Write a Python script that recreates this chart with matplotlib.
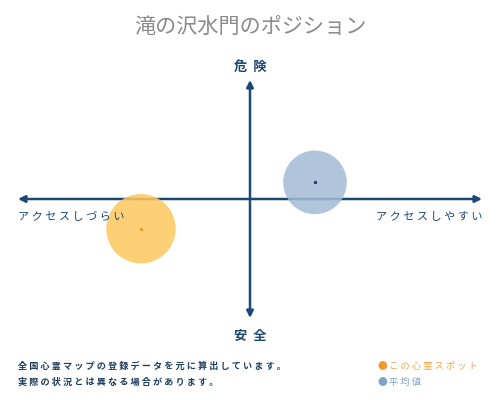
import matplotlib
matplotlib.use('Agg')
import matplotlib.pyplot as plt

plt.rcParams['font.family'] = ['Noto Sans CJK JP', 'DejaVu Sans']

# datos (coordenadas normalizadas -1..1 en cada eje)
nombres = ['この心霊スポット', '平均値']
x_acceso = [-0.47, 0.28]
y_peligro = [-0.25, 0.14]
tamanos = [2500, 2100]
colores = ['#fdc85e', '#a3bbd6']
colores_punto = ['#f0a020', '#1f3f5f']

titulo = '滝の沢水門のポジション'
eje_arriba = '危険'
eje_abajo = '安全'
eje_izq = 'アクセスしづらい'
eje_der = 'アクセスしやすい'
notas = ['全国心霊マップの登録データを元に算出しています。',
         '実際の状況とは異なる場合があります。']

navy = '#1b4874'


def espaciado(t, sep=' '):
    return sep.join(t)


fig = plt.figure(figsize=(5, 4), dpi=100)
ax = fig.add_axes([0.036, 0.205, 0.928, 0.595])
ax.set_xlim(-1, 1)
ax.set_ylim(-1, 1)
ax.axis('off')

# ejes con flechas
flecha = dict(arrowstyle='-|>,head_length=0.4,head_width=0.2', color=navy, lw=1.8,
              shrinkA=0, shrinkB=0)
ax.annotate('', xy=(1, 0), xytext=(0, 0), arrowprops=flecha)
ax.annotate('', xy=(-1, 0), xytext=(0, 0), arrowprops=flecha)
ax.annotate('', xy=(0, 1), xytext=(0, 0), arrowprops=flecha)
ax.annotate('', xy=(0, -1), xytext=(0, 0), arrowprops=flecha)

# circulos
for i in range(len(nombres)):
    ax.scatter(x_acceso[i], y_peligro[i], s=tamanos[i], color=colores[i],
               alpha=0.85, edgecolors='none', zorder=3)
    ax.scatter(x_acceso[i], y_peligro[i], s=2, color=colores_punto[i], zorder=4)

# textos
fig.text(0.5, 0.93, titulo, ha='center', va='center', fontsize=15.2, color='#8a8a8a')
fig.text(0.5, 0.833, espaciado(eje_arriba, '  '), ha='center', va='center', fontsize=9.5,
         color=navy, fontweight='bold')
fig.text(0.5, 0.16, espaciado(eje_abajo, '  '), ha='center', va='center', fontsize=9.5,
         color=navy, fontweight='bold')
fig.text(0.036, 0.458, espaciado(eje_izq), ha='left', va='center', fontsize=8,
         color=navy)
fig.text(0.964, 0.458, espaciado(eje_der), ha='right', va='center', fontsize=8,
         color=navy)

fig.text(0.036, 0.085, espaciado(notas[0]), ha='left', va='center', fontsize=6.6,
         color='#1f3f5f', fontweight='bold')
fig.text(0.036, 0.045, espaciado(notas[1]), ha='left', va='center', fontsize=6.6,
         color='#1f3f5f', fontweight='bold')

fig.text(0.755, 0.085, '●', ha='left', va='center', fontsize=7, color='#f09a30')
fig.text(0.778, 0.085, espaciado(nombres[0]), ha='left', va='center', fontsize=6.7,
         color='#f0a850')
fig.text(0.755, 0.045, '●', ha='left', va='center', fontsize=7, color='#7fa3c6')
fig.text(0.778, 0.045, espaciado(nombres[1]), ha='left', va='center', fontsize=6.7,
         color='#7fa3c6')

fig.savefig('out.png', dpi=100)
